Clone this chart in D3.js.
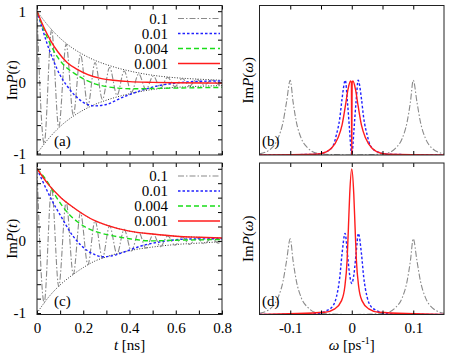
<!DOCTYPE html>
<html>
<head>
<meta charset="utf-8">
<script src="https://cdn.jsdelivr.net/npm/d3@7"></script>
<style>
  body { margin: 0; background: #fff; }
  svg text { font-family: "Liberation Serif", "Times New Roman", serif; font-size: 15px; fill: #000; }
</style>
</head>
<body>
<svg id="fig" width="463" height="357"></svg>
<script>
// ---- data ---------------------------------------------------------------
const series = ["0.1", "0.01", "0.004", "0.001"];

// gray 0.1 trace: extrema of the fast oscillation, t [ns]
const tGray = [0, 0.031, 0.063, 0.094, 0.126, 0.157, 0.188, 0.220, 0.251, 0.283, 0.314, 0.346, 0.377,
  0.408, 0.440, 0.471, 0.503, 0.534, 0.565, 0.597, 0.628, 0.660, 0.691, 0.723, 0.754, 0.785, 0.8];
const vGray = [1, -0.86, 0.74, -0.63, 0.54, -0.46, 0.39, -0.33, 0.28, -0.24, 0.21, -0.18, 0.16,
  -0.14, 0.12, -0.10, 0.09, -0.08, 0.07, -0.06, 0.055, -0.05, 0.045, -0.04, 0.035, -0.03, 0];

// dotted envelope, panel (a)
const tEnv = [0, 0.05, 0.1, 0.15, 0.2, 0.25, 0.3, 0.4, 0.5, 0.6, 0.7, 0.8];
const envUp = [1, 0.79, 0.62, 0.49, 0.39, 0.31, 0.25, 0.16, 0.10, 0.065, 0.045, 0.03];
const envLo = [-1, -0.79, -0.62, -0.49, -0.39, -0.31, -0.25, -0.16, -0.10, -0.07, -0.055, -0.045];
// dotted envelope, panel (c) (upper one runs under the red curve)
const envUpC = [1, 0.78, 0.61, 0.48, 0.37, 0.28, 0.22, 0.135, 0.095, 0.065, 0.05, 0.04];
const envLoC = [-1, -0.78, -0.61, -0.48, -0.37, -0.28, -0.22, -0.135, -0.085, -0.05, -0.03, -0.01];

// panel (a)
const blueA = [[0, 1], [0.02, 0.79], [0.043, 0.55], [0.072, 0.30], [0.1, 0.10], [0.13, -0.05], [0.16, -0.17],
  [0.2, -0.28], [0.25, -0.33], [0.3, -0.31], [0.37, -0.21], [0.445, -0.12], [0.52, -0.05], [0.6, -0.01],
  [0.7, 0.015], [0.8, 0.02]];
const greenA = [[0, 1], [0.03, 0.74], [0.06, 0.52], [0.09, 0.35], [0.12, 0.23], [0.16, 0.13], [0.2, 0.05],
  [0.25, -0.02], [0.3, -0.06], [0.35, -0.08], [0.42, -0.09], [0.5, -0.085], [0.6, -0.08], [0.7, -0.075], [0.8, -0.07]];
const redA = [[0, 1], [0.03, 0.77], [0.06, 0.58], [0.09, 0.43], [0.13, 0.28], [0.17, 0.19], [0.22, 0.11],
  [0.27, 0.06], [0.33, 0.03], [0.4, 0.01], [0.5, 0], [0.6, -0.005], [0.8, -0.01]];

// panel (c)
const blueC = [[0, 1], [0.02, 0.86], [0.04, 0.72], [0.06, 0.59], [0.08, 0.47], [0.1, 0.36], [0.12, 0.25],
  [0.14, 0.14], [0.16, 0.05], [0.19, -0.06], [0.22, -0.14], [0.25, -0.19], [0.28, -0.22], [0.32, -0.21],
  [0.38, -0.15], [0.45, -0.07], [0.52, -0.02], [0.56, 0], [0.64, 0.025], [0.8, 0.03]];
const greenC = [[0, 1], [0.043, 0.83], [0.087, 0.59], [0.13, 0.40], [0.173, 0.27], [0.216, 0.18], [0.274, 0.11],
  [0.33, 0.07], [0.4, 0.03], [0.5, 0.0], [0.6, 0.01], [0.7, 0.015], [0.8, 0.02]];
const redC = [[0, 1], [0.05, 0.78], [0.1, 0.61], [0.15, 0.48], [0.2, 0.37], [0.25, 0.28], [0.3, 0.22],
  [0.4, 0.135], [0.5, 0.095], [0.6, 0.065], [0.7, 0.05], [0.8, 0.04]];

// spectra, omega [ps^-1]
const grayW = [[-0.15, 0.015], [-0.1306, 0.09], [-0.12, 0.22], [-0.1117, 0.44], [-0.106, 0.71], [-0.1, 1.0],
  [-0.0954, 0.71], [-0.09, 0.44], [-0.082, 0.22], [-0.071, 0.09], [-0.055, 0.02], [-0.03, 0.005], [0, 0],
  [0.03, 0.005], [0.055, 0.02], [0.071, 0.09], [0.082, 0.22], [0.09, 0.44], [0.0954, 0.71], [0.1, 1.0],
  [0.106, 0.71], [0.1117, 0.44], [0.12, 0.22], [0.1306, 0.09], [0.15, 0.015]];
const blueB = [[-0.15, 0], [-0.06, 0.01], [-0.041, 0.045], [-0.03, 0.13], [-0.025, 0.27], [-0.0195, 0.49],
  [-0.0158, 0.75], [-0.0105, 1.0], [-0.007, 0.71], [-0.0037, 0.35], [-0.001, 0.05], [0, 0],
  [0.001, 0.05], [0.0037, 0.35], [0.007, 0.71], [0.0105, 1.0], [0.0158, 0.75], [0.0195, 0.49],
  [0.025, 0.27], [0.03, 0.13], [0.041, 0.045], [0.06, 0.01], [0.15, 0]];
const redB = [[-0.15, 0], [-0.06, 0.01], [-0.049, 0.02], [-0.033, 0.09], [-0.0223, 0.23], [-0.0158, 0.40],
  [-0.0103, 0.66], [-0.006, 0.88], [-0.002, 0.99], [-0.0006, 0.97], [0, 0], [0.0006, 0.97], [0.002, 0.99],
  [0.006, 0.88], [0.0103, 0.66], [0.0158, 0.40], [0.0223, 0.23], [0.033, 0.09], [0.049, 0.02], [0.06, 0.01], [0.15, 0]];
const blueD = [[-0.15, 0], [-0.06, 0.01], [-0.041, 0.05], [-0.03, 0.12], [-0.025, 0.23], [-0.0195, 0.49],
  [-0.0158, 0.80], [-0.0108, 1.07], [-0.007, 0.80], [-0.0037, 0.54], [0, 0.41], [0.0037, 0.54], [0.007, 0.80],
  [0.0108, 1.07], [0.0158, 0.80], [0.0195, 0.49], [0.025, 0.23], [0.03, 0.12], [0.041, 0.05], [0.06, 0.01], [0.15, 0]];
const redD = [[-0.15, 0], [-0.044, 0.03], [-0.0276, 0.075], [-0.0168, 0.18], [-0.0114, 0.36], [-0.0076, 0.71],
  [-0.0054, 1.15], [-0.0033, 1.59], [0, 1.92], [0.0033, 1.59], [0.0054, 1.15], [0.0076, 0.71], [0.0114, 0.36],
  [0.0168, 0.18], [0.0276, 0.075], [0.044, 0.03], [0.15, 0]];

const tTicks = [0, 0.1, 0.2, 0.3, 0.4, 0.5, 0.6, 0.7, 0.8];
const tLabels = [0, 0.2, 0.4, 0.6, 0.8];
const pTicks = [-1, -0.8, -0.6, -0.4, -0.2, 0, 0.2, 0.4, 0.6, 0.8, 1];
const pLabels = [-1, 0, 1];
const wTicks = [-0.1, -0.05, 0, 0.05, 0.1];
const wLabels = [-0.1, 0, 0.1];

// ---- styles ---------------------------------------------------------------
const style = {
  "0.1":   { c: "#8a8a8a", w: 1.1, d: "6 2 1.5 2" },
  "0.01":  { c: "#2020ff", w: 1.4, d: "2.5 2" },
  "0.004": { c: "#19dd19", w: 1.4, d: "5 3" },
  "0.001": { c: "#ff1c1c", w: 1.4, d: null },
  env:     { c: "#000", w: 0.8, d: "1 1.6" }
};

const svg = d3.select("#fig");
const xT = d3.scaleLinear().domain([0, 0.8]).range([37, 222]);
const xW = d3.scaleLinear().domain([-0.15, 0.15]).range([259.5, 444]);
const rows = [[155, 5.5], [314.5, 163]];
const yT = rows.map((r) => d3.scaleLinear().domain([-1.02, 1.08]).range(r));
const yW = rows.map((r) => d3.scaleLinear().domain([0, 2]).range(r));

const num = (keep) => (d) => (keep.some((k) => Math.abs(k - d) < 1e-9) ? String(+d.toFixed(2)) : "");
const zip = (xs, ys) => xs.map((x, i) => [x, ys[i]]);

let clipN = 0;
function panel(x, y, opt) {
  const g = svg.append("g");
  const [x0, x1] = x.range(), [yb, yt] = y.range();
  const id = "clip" + (clipN++);
  g.append("clipPath").attr("id", id).append("rect")
    .attr("x", x0).attr("y", yt).attr("width", x1 - x0).attr("height", yb - yt);

  const plot = g.append("g").attr("clip-path", `url(#${id})`);
  opt.curves.forEach(([key, data]) => {
    const s = style[key];
    plot.append("path").datum(data)
      .attr("d", d3.line().x((d) => x(d[0])).y((d) => y(d[1])).curve(d3.curveMonotoneX))
      .attr("fill", "none").attr("stroke", s.c).attr("stroke-width", s.w)
      .attr("stroke-dasharray", s.d);
  });

  const clean = (a) => { a.select(".domain").remove(); a.selectAll(".tick line").attr("stroke", "#000"); };
  g.append("g").attr("transform", `translate(0,${yb})`)
    .call(d3.axisBottom(x).tickValues(opt.xTicks).tickSize(-4).tickPadding(8)
      .tickFormat(opt.xLabels ? num(opt.xLabels) : () => "")).call(clean);
  g.append("g").attr("transform", `translate(0,${yt})`)
    .call(d3.axisTop(x).tickValues(opt.xTicks).tickSize(-4).tickFormat(() => "")).call(clean);
  if (opt.yTicks) {
    g.append("g").attr("transform", `translate(${x0},0)`)
      .call(d3.axisLeft(y).tickValues(opt.yTicks).tickSize(-4).tickPadding(11).tickFormat(num(opt.yLabels))).call(clean);
    g.append("g").attr("transform", `translate(${x1},0)`)
      .call(d3.axisRight(y).tickValues(opt.yTicks).tickSize(-4).tickFormat(() => "")).call(clean);
  }
  g.selectAll(".tick text").attr("fill", "#000");

  g.append("rect").attr("x", x0).attr("y", yt).attr("width", x1 - x0).attr("height", yb - yt)
    .attr("fill", "none").attr("stroke", "#222").attr("stroke-width", 1);

  g.append("text").attr("x", opt.tagX).attr("y", yb - 9).text(opt.tag);

  if (opt.legend) {
    opt.legend.forEach((key, i) => {
      const s = style[key], cy = yt + 13 + i * 15;
      g.append("text").attr("x", 168).attr("y", cy + 5).attr("text-anchor", "end").text(key);
      g.append("line").attr("x1", 178).attr("x2", 220).attr("y1", cy).attr("y2", cy)
        .attr("stroke", s.c).attr("stroke-width", s.w).attr("stroke-dasharray", s.d);
    });
  }

  // rotated y label
  const yl = g.append("text")
    .attr("transform", `translate(${opt.yLabX},${(yb + yt) / 2}) rotate(-90)`).attr("text-anchor", "middle");
  yl.append("tspan").text("Im");
  yl.append("tspan").attr("font-style", "italic").text("P");
  yl.append("tspan").text("(");
  yl.append("tspan").attr("font-style", "italic").text(opt.yVar);
  yl.append("tspan").text(")");
  return g;
}

[0, 1].forEach((r) => {
  const red = r ? redC : redA, blue = r ? blueC : blueA, green = r ? greenC : greenA;
  panel(xT, yT[r], {
    curves: [["env", zip(tEnv, r ? envUpC : envUp)], ["env", zip(tEnv, r ? envLoC : envLo)],
      ["0.1", zip(tGray, vGray)], ["0.01", blue], ["0.004", green], ["0.001", red]],
    xTicks: tTicks, xLabels: r ? tLabels : null, yTicks: pTicks, yLabels: pLabels,
    tag: r ? "(c)" : "(a)", tagX: 54, legend: series, yLabX: 17, yVar: "t"
  });
  panel(xW, yW[r], {
    curves: [["0.1", grayW], ["0.01", r ? blueD : blueB], ["0.001", r ? redD : redB]],
    xTicks: wTicks, xLabels: r ? wLabels : null,
    tag: r ? "(d)" : "(b)", tagX: 262, yLabX: 253, yVar: "ω"
  });
});

// x titles
const xt1 = svg.append("text").attr("x", xT(0.4)).attr("y", 350).attr("text-anchor", "middle");
xt1.append("tspan").attr("font-style", "italic").text("t");
xt1.append("tspan").text(" [ns]");
const xt2 = svg.append("text").attr("x", xW(0)).attr("y", 350).attr("text-anchor", "middle");
xt2.append("tspan").attr("font-style", "italic").text("ω");
xt2.append("tspan").text(" [ps");
xt2.append("tspan").attr("font-size", "10px").attr("dy", -6).text("-1");
xt2.append("tspan").attr("dy", 6).text("]");
</script>
</body>
</html>
